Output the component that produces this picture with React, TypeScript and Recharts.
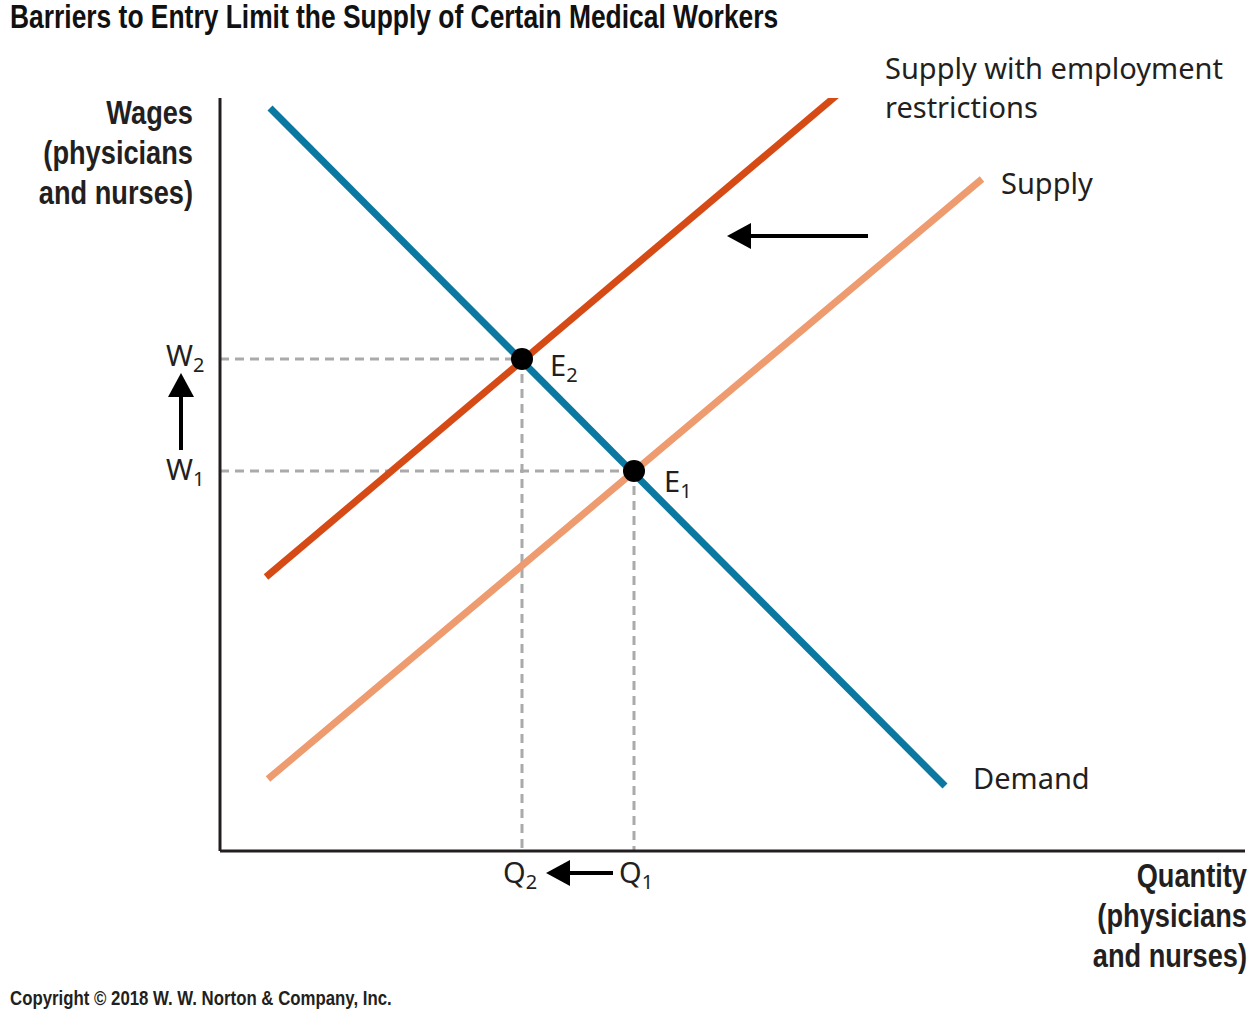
import React from 'react';
import { ComposedChart, Line, Scatter, XAxis, YAxis, ReferenceLine } from 'recharts';

// values in diagram units (origin at the axes corner)
const demand = [{ x: 50, y: 743 }, { x: 725, y: 65 }];
const supply = [{ x: 48, y: 72 }, { x: 762, y: 672 }];
const restricted = [{ x: 46, y: 274 }, { x: 649, y: 783 }];
const equilibria = [{ x: 302, y: 492, name: 'E2' }, { x: 414, y: 380, name: 'E1' }];
const w2Guide = [{ x: 0, y: 492 }, { x: 302, y: 492 }];
const q2Guide = [{ x: 302, y: 492 }, { x: 302, y: 0 }];
const w1Guide = [{ x: 0, y: 380 }, { x: 414, y: 380 }];
const q1Guide = [{ x: 414, y: 380 }, { x: 414, y: 0 }];

const font = '"Liberation Sans", Arial, sans-serif';
const labelFont = '"Noto Sans", "Open Sans", sans-serif';

const abs = (left: number, top: number, extra: React.CSSProperties = {}): React.CSSProperties => ({
  position: 'absolute', left, top, fontFamily: labelFont, fontSize: 29, color: '#231f20', lineHeight: 1.3, whiteSpace: 'nowrap', ...extra,
});
const Sub = ({ c }: { c: string }) => <sub style={{ fontSize: 20, verticalAlign: -6 }}>{c}</sub>;
const narrow = (origin: string): React.CSSProperties => ({ transform: 'scaleX(0.8)', transformOrigin: origin, fontFamily: font, fontWeight: 'bold' });

export default function App() {
  const dash = { stroke: '#aaaaaa', strokeWidth: 3, strokeDasharray: '9 6', dot: false, isAnimationActive: false, type: 'linear' as const };
  return (
    <div style={{ position: 'absolute', left: 0, top: 0, width: 1259, height: 1014, background: '#fff' }}>
      <ComposedChart width={1259} height={1014} margin={{ left: 220, right: 14, top: 98, bottom: 163 }}>
        <XAxis type="number" dataKey="x" domain={[0, 1025]} allowDataOverflow hide />
        <YAxis type="number" dataKey="y" domain={[0, 753]} allowDataOverflow hide />
        <Line data={w2Guide} dataKey="y" {...dash} />
        <Line data={q2Guide} dataKey="y" {...dash} />
        <Line data={w1Guide} dataKey="y" {...dash} />
        <Line data={q1Guide} dataKey="y" {...dash} />
        <Line data={supply} dataKey="y" type="linear" stroke="#ee9b6f" strokeWidth={7} dot={false} isAnimationActive={false} />
        <Line data={restricted} dataKey="y" type="linear" stroke="#d64a15" strokeWidth={7} dot={false} isAnimationActive={false} />
        <Line data={demand} dataKey="y" type="linear" stroke="#0a78a0" strokeWidth={7} dot={false} isAnimationActive={false} />
        <ReferenceLine x={0} stroke="#231f20" strokeWidth={3} ifOverflow="visible" />
        <ReferenceLine y={0} stroke="#231f20" strokeWidth={3} ifOverflow="visible" />
        <Scatter data={equilibria} dataKey="y" fill="#000" shape={(p: any) => <circle cx={p.cx} cy={p.cy} r={11} fill="#000" />} isAnimationActive={false} />
      </ComposedChart>
      <svg width={1259} height={1014} style={{ position: 'absolute', left: 0, top: 0, pointerEvents: 'none' }}>
        <line x1={868} y1={236} x2={750} y2={236} stroke="#000" strokeWidth={4} />
        <polygon points="727,236 751,223 751,249" fill="#000" />
        <line x1={181} y1={450} x2={181} y2={396} stroke="#000" strokeWidth={4} />
        <polygon points="181,373 168,397 194,397" fill="#000" />
        <line x1={613} y1={873} x2={568} y2={873} stroke="#000" strokeWidth={4} />
        <polygon points="546,873 570,860 570,886" fill="#000" />
      </svg>
      <div style={{ ...abs(10, -4), ...narrow('left'), fontSize: 33, color: '#111' }}>
        Barriers to Entry Limit the Supply of Certain Medical Workers
      </div>
      <div style={{ ...abs(0, 92), width: 193, textAlign: 'right', ...narrow('right'), fontSize: 34, lineHeight: '40px' }}>
        Wages<br />(physicians<br />and nurses)
      </div>
      <div style={{ ...abs(1000, 855), width: 247, textAlign: 'right', ...narrow('right'), fontSize: 34, lineHeight: '40px' }}>
        Quantity<br />(physicians<br />and nurses)
      </div>
      <div style={{ ...abs(885, 48), lineHeight: '39px' }}>Supply with employment<br />restrictions</div>
      <div style={abs(1001, 164)}>Supply</div>
      <div style={abs(973, 759)}>Demand</div>
      <div style={abs(550, 346)}>E<Sub c="2" /></div>
      <div style={abs(664, 462)}>E<Sub c="1" /></div>
      <div style={abs(166, 336)}>W<Sub c="2" /></div>
      <div style={abs(166, 450)}>W<Sub c="1" /></div>
      <div style={abs(503, 853)}>Q<Sub c="2" /></div>
      <div style={abs(619, 853)}>Q<Sub c="1" /></div>
      <div style={{ ...abs(10, 984), ...narrow('left'), fontSize: 21 }}>
        Copyright © 2018 W. W. Norton &amp; Company, Inc.
      </div>
    </div>
  );
}
